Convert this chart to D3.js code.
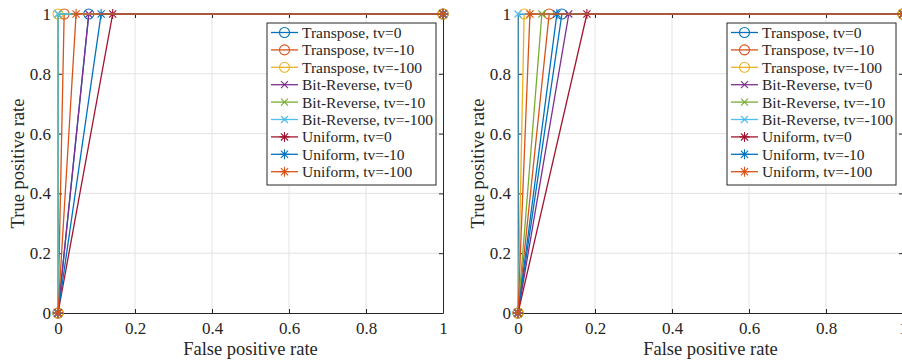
<!DOCTYPE html>
<html>
<head>
<meta charset="utf-8">
<script src="https://cdn.jsdelivr.net/npm/d3@7"></script>
<style>
    body { margin: 0; background: #fff; }
</style>
</head>
<body>
<svg id="chart" width="902" height="360" font-family="'Liberation Serif', 'Times New Roman', serif"></svg>
<script>
// series names, in legend order
var seriesNames = [
    "Transpose, tv=0", "Transpose, tv=-10", "Transpose, tv=-100",
    "Bit-Reverse, tv=0", "Bit-Reverse, tv=-10", "Bit-Reverse, tv=-100",
    "Uniform, tv=0", "Uniform, tv=-10", "Uniform, tv=-100"
];
var seriesMarkers = ["o", "o", "o", "x", "x", "x", "*", "*", "*"];
var seriesColors = ["#0072BD", "#D95319", "#EDB120", "#7E2F8E", "#77AC30", "#4DBEEE", "#A2142F", "#0072BD", "#D95319"];

// false positive rate at the middle point (true positive rate = 1)
var fprLeft  = [0.080, 0.016, 0.000, 0.080, 0.000, 0.000, 0.142, 0.112, 0.047];
var fprRight = [0.114, 0.081, 0.016, 0.132, 0.062, 0.000, 0.179, 0.101, 0.031];

var ticks = [0, 0.2, 0.4, 0.6, 0.8, 1];
var tickLabels = ["0", "0.2", "0.4", "0.6", "0.8", "1"];

var FONT = "'Liberation Serif', 'Times New Roman', serif";
var svg = d3.select("#chart");

function drawMarker(g, type, color)
{
    if(type == "o")
        g.append("circle").attr("r", 5).attr("fill", "none").attr("stroke", color).attr("stroke-width", 1.1);
    else if(type == "x")
        g.append("path").attr("d", "M-3.5,-3.5L3.5,3.5M-3.5,3.5L3.5,-3.5").attr("stroke", color).attr("stroke-width", 1.1);
    else
        g.append("path").attr("d", "M-5,0L5,0M0,-5L0,5M-3.6,-3.6L3.6,3.6M-3.6,3.6L3.6,-3.6").attr("stroke", color).attr("stroke-width", 1.1);
}

function drawPanel(left, fpr)
{
    var top = 14, w = 385, h = 299;
    var x = d3.scaleLinear().domain([0, 1]).range([0, w]);
    var y = d3.scaleLinear().domain([0, 1]).range([h, 0]);

    var g = svg.append("g").attr("transform", "translate(" + left + "," + top + ")");

    // grid
    g.append("g").selectAll("line").data(ticks.slice(1, -1)).enter().append("line")
        .attr("x1", d => x(d)).attr("x2", d => x(d)).attr("y1", 0).attr("y2", h)
        .attr("stroke", "#e3e3e3").attr("stroke-width", 1);
    g.append("g").selectAll("line").data(ticks.slice(1, -1)).enter().append("line")
        .attr("y1", d => y(d)).attr("y2", d => y(d)).attr("x1", 0).attr("x2", w)
        .attr("stroke", "#e3e3e3").attr("stroke-width", 1);

    // axes (ticks inside, box on)
    var axB = g.append("g").attr("transform", "translate(0," + h + ")")
        .call(d3.axisBottom(x).tickValues(ticks).tickFormat((d, i) => tickLabels[i]).tickSizeInner(-4).tickSizeOuter(0).tickPadding(9));
    var axL = g.append("g")
        .call(d3.axisLeft(y).tickValues(ticks).tickFormat((d, i) => tickLabels[i]).tickSizeInner(-4).tickSizeOuter(0).tickPadding(7));
    var axT = g.append("g")
        .call(d3.axisTop(x).tickValues(ticks).tickFormat("").tickSizeInner(-4).tickSizeOuter(0));
    var axR = g.append("g").attr("transform", "translate(" + w + ",0)")
        .call(d3.axisRight(y).tickValues(ticks).tickFormat("").tickSizeInner(-4).tickSizeOuter(0));
    [axB, axL, axT, axR].forEach(a => {
        a.attr("font-family", FONT).attr("font-size", 17);
        a.selectAll("path").attr("stroke", "#262626").attr("stroke-width", 1);
        a.selectAll("line").attr("stroke", "#262626");
        a.selectAll("text").attr("fill", "#262626");
    });

    g.append("text").attr("x", w / 2).attr("y", h + 42).attr("text-anchor", "middle")
        .attr("font-family", FONT).attr("font-size", 18.5).attr("fill", "#262626").text("False positive rate");
    g.append("text").attr("transform", "translate(-34," + (h / 2) + ") rotate(-90)").attr("text-anchor", "middle")
        .attr("font-family", FONT).attr("font-size", 18.5).attr("fill", "#262626").text("True positive rate");

    // series
    var line = d3.line().x(d => x(d[0])).y(d => y(d[1]));
    seriesNames.forEach((name, i) => {
        var pts = [[0, 0], [fpr[i], 1], [1, 1]];
        g.append("path").datum(pts).attr("d", line).attr("fill", "none")
            .attr("stroke", seriesColors[i]).attr("stroke-width", 1.3);
        pts.forEach(p => {
            var m = g.append("g").attr("transform", "translate(" + x(p[0]) + "," + y(p[1]) + ")");
            drawMarker(m, seriesMarkers[i], seriesColors[i]);
        });
    });

    // legend
    var lw = 169, lh = 162, lx = w - 7 - lw, ly = 9;
    var leg = g.append("g").attr("transform", "translate(" + lx + "," + ly + ")");
    leg.append("rect").attr("width", lw).attr("height", lh).attr("fill", "#fff")
        .attr("stroke", "#262626").attr("stroke-width", 1);
    seriesNames.forEach((name, i) => {
        var ry = 9.5 + i * 17.4;
        leg.append("line").attr("x1", 4).attr("x2", 31).attr("y1", ry).attr("y2", ry)
            .attr("stroke", seriesColors[i]).attr("stroke-width", 1.3);
        var m = leg.append("g").attr("transform", "translate(17.5," + ry + ")");
        drawMarker(m, seriesMarkers[i], seriesColors[i]);
        leg.append("text").attr("x", 35).attr("y", ry).attr("dy", "0.35em")
            .attr("font-family", FONT).attr("font-size", 15.5).attr("fill", "#262626").text(name);
    });
}

drawPanel(58, fprLeft);
drawPanel(518, fprRight);
</script>
</body>
</html>
